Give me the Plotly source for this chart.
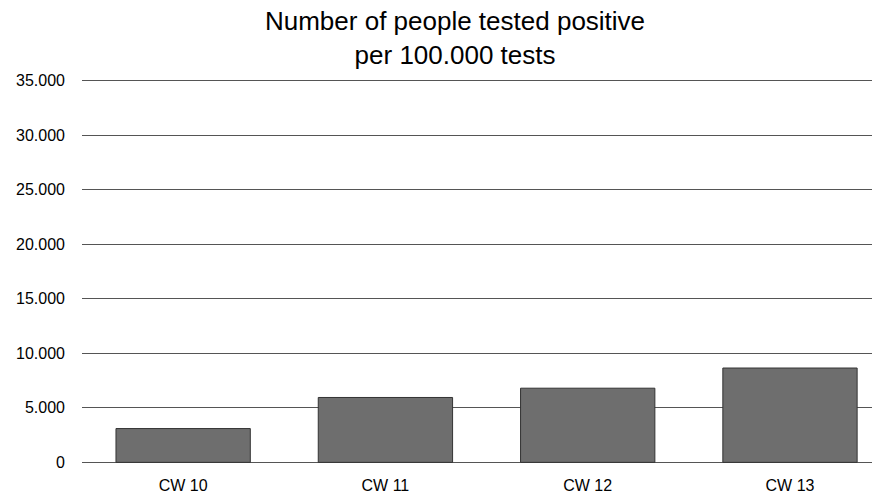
import plotly.graph_objects as go

categories = ["CW 10", "CW 11", "CW 12", "CW 13"]
positives_per_100k = [3100, 5950, 6800, 8650]
y_ticks = [0, 5000, 10000, 15000, 20000, 25000, 30000, 35000]
y_tick_labels = ["0", "5.000", "10.000", "15.000", "20.000", "25.000", "30.000", "35.000"]

fig = go.Figure(
    go.Bar(
        x=categories,
        y=positives_per_100k,
        marker=dict(color="#6e6e6e", line=dict(color="#333333", width=1)),
    )
)

fig.update_layout(
    width=880,
    height=494,
    margin=dict(l=70, r=8, t=71, b=35),
    paper_bgcolor="white",
    plot_bgcolor="white",
    font=dict(family="Liberation Sans, Arial, sans-serif", color="#000000", size=16),
    title=dict(
        text="Number of people tested positive<br>per 100.000 tests",
        x=0.508,
        xref="container",
        xanchor="center",
        y=0.956,
        yref="container",
        yanchor="top",
        font=dict(size=26, color="#000000"),
    ),
    bargap=0.336,
    showlegend=False,
)

fig.update_xaxes(
    type="category",
    range=[-0.5, 3.445],
    showgrid=False,
    showline=False,
    zeroline=False,
    ticks="",
    ticklabelstandoff=10,
    tickfont=dict(size=16),
)

fig.update_yaxes(
    range=[-150, 35150],
    tickvals=y_ticks,
    ticktext=y_tick_labels,
    showgrid=True,
    gridcolor="#555555",
    gridwidth=1,
    zeroline=False,
    showline=False,
    ticks="",
    ticklabelstandoff=16,
    tickfont=dict(size=16),
)

fig.write_html("out.html")
